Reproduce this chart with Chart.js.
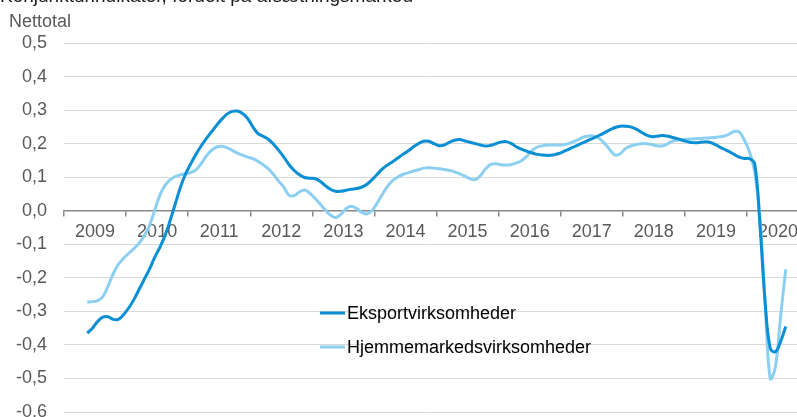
<!DOCTYPE html>
<html>
<head>
<meta charset="utf-8">
<script src="https://cdn.jsdelivr.net/npm/chart.js@4.4.0/dist/chart.umd.min.js"></script>
<style>
  html, body { margin: 0; padding: 0; background: #fff; }
  #chart { display: block; }
</style>
</head>
<body>
<canvas id="chart" width="797" height="417"></canvas>
<script>
const titleText = "Konjunkturindikator, fordelt på afsætningsmarked";
const unitLabel = "Nettotal";

// monthly series, first value = May 2009, last = Aug 2020
const startYear = 2009;
const startMonth = 5;

const eksport = [
  -0.365, -0.35, -0.33, -0.317, -0.316, -0.324, -0.324, -0.31,
  -0.29, -0.265, -0.235, -0.205, -0.175, -0.14, -0.11, -0.075, -0.03, 0.02, 0.07, 0.11,
  0.14, 0.168, 0.193, 0.215, 0.235, 0.255, 0.273, 0.288, 0.296, 0.297, 0.29, 0.275,
  0.25, 0.23, 0.222, 0.213, 0.198, 0.18, 0.16, 0.137, 0.12, 0.107, 0.099, 0.097,
  0.096, 0.088, 0.075, 0.064, 0.058, 0.058, 0.061, 0.064, 0.066, 0.07, 0.078, 0.092,
  0.108, 0.124, 0.136, 0.146, 0.157, 0.168, 0.178, 0.19, 0.2, 0.207, 0.207, 0.2,
  0.194, 0.196, 0.204, 0.21, 0.212, 0.208, 0.204, 0.2, 0.196, 0.193, 0.195, 0.2,
  0.205, 0.206, 0.2, 0.19, 0.183, 0.177, 0.172, 0.168, 0.166, 0.165, 0.166, 0.17,
  0.176, 0.183, 0.19, 0.197, 0.204, 0.211, 0.218, 0.225, 0.233, 0.241, 0.248, 0.252,
  0.252, 0.25, 0.244, 0.235, 0.226, 0.221, 0.222, 0.224, 0.223, 0.219, 0.215, 0.21,
  0.206, 0.203, 0.203, 0.205, 0.205, 0.2, 0.192, 0.184, 0.177, 0.168, 0.16, 0.156,
  0.155, 0.14, -0.04, -0.27, -0.41, -0.42, -0.39, -0.345
];

const hjemme = [
  -0.272, -0.271, -0.268, -0.256, -0.225, -0.188, -0.16, -0.142,
  -0.127, -0.113, -0.097, -0.075, -0.045, 0.0, 0.045, 0.075, 0.092, 0.102, 0.107, 0.11,
  0.114, 0.122, 0.14, 0.163, 0.18, 0.19, 0.192, 0.188, 0.18, 0.172, 0.166, 0.16,
  0.155, 0.147, 0.137, 0.125, 0.108, 0.088, 0.07, 0.046, 0.045, 0.056, 0.062, 0.052,
  0.037, 0.02, 0.002, -0.013, -0.02, -0.011, 0.006, 0.013, 0.007, -0.004, -0.01, 0.0,
  0.022, 0.048, 0.072, 0.09, 0.1, 0.108, 0.113, 0.118, 0.122, 0.127, 0.128, 0.127,
  0.125, 0.123, 0.12, 0.116, 0.11, 0.103, 0.095, 0.093, 0.105, 0.125, 0.138, 0.14,
  0.137, 0.136, 0.138, 0.143, 0.15, 0.163, 0.18, 0.19, 0.194, 0.196, 0.196, 0.196,
  0.197, 0.2, 0.206, 0.213, 0.22, 0.223, 0.222, 0.215, 0.2, 0.182, 0.166, 0.17,
  0.185, 0.193, 0.197, 0.2, 0.2, 0.198, 0.194, 0.193, 0.198, 0.207, 0.21, 0.212,
  0.213, 0.214, 0.215, 0.216, 0.217, 0.218, 0.22, 0.222, 0.228, 0.236, 0.235, 0.21,
  0.175, 0.115, -0.015, -0.27, -0.5, -0.465, -0.315, -0.175
];

const yearLabels = ["2009", "2010", "2011", "2012", "2013", "2014", "2015", "2016", "2017", "2018", "2019", "2020"];
const yTicks = [0.5, 0.4, 0.3, 0.2, 0.1, 0, -0.1, -0.2, -0.3, -0.4, -0.5, -0.6];
const yTickLabels = ["0,5", "0,4", "0,3", "0,2", "0,1", "0,0", "-0,1", "-0,2", "-0,3", "-0,4", "-0,5", "-0,6"];

const seriesNames = ["Eksportvirksomheder", "Hjemmemarkedsvirksomheder"];
const darkBlue = "#0a8fd4";
const lightBlue = "#8dcff1";
const font = "'Liberation Sans', Arial, sans-serif";

// point i sits in the middle of its month
const monthX = (i) => startYear + (startMonth - 1 + i + 0.5) / 12;
const toPoints = (arr) => arr.map((v, i) => ({ x: monthX(i), y: v }));

const textPlugin = {
  id: "texts",
  afterDraw(chart) {
    const ctx = chart.ctx;
    ctx.save();
    ctx.font = "19px " + font;
    ctx.fillStyle = "#1a1a1a";
    ctx.textBaseline = "alphabetic";
    ctx.fillText(titleText, 0, 2);

    ctx.font = "18px " + font;
    ctx.fillStyle = "#595959";
    ctx.textBaseline = "middle";
    ctx.fillText(unitLabel, 9, 22);

    // legend inside plot
    chart.data.datasets.forEach((ds, i) => {
      const y = 313 + i * 34;
      ctx.strokeStyle = ds.borderColor;
      ctx.lineWidth = 3;
      ctx.beginPath();
      ctx.moveTo(320, y);
      ctx.lineTo(345, y);
      ctx.stroke();
      ctx.fillStyle = "#000";
      ctx.fillText(ds.label, 347, y + 1);
    });
    ctx.restore();
  }
};

Chart.defaults.font.family = font;

new Chart(document.getElementById("chart"), {
  type: "line",
  data: {
    datasets: [
      {
        label: seriesNames[0],
        data: toPoints(eksport),
        borderColor: darkBlue,
        borderWidth: 3,
        pointRadius: 0,
        tension: 0.4,
        fill: false
      },
      {
        label: seriesNames[1],
        data: toPoints(hjemme),
        borderColor: lightBlue,
        borderWidth: 3,
        pointRadius: 0,
        tension: 0.4,
        fill: false
      }
    ]
  },
  options: {
    responsive: false,
    animation: false,
    layout: { padding: { top: 43, bottom: 5, left: 0, right: 0 } },
    plugins: {
      legend: { display: false },
      tooltip: { enabled: false }
    },
    scales: {
      x: {
        type: "linear",
        position: { y: 0 },
        min: 2009,
        max: 2020.806,
        afterBuildTicks: (s) => {
          s.ticks = yearLabels.map((y) => ({ value: Number(y) + 0.5 }));
        },
        afterFit: (s) => {
          s.paddingLeft = 0;
          s.paddingRight = 0;
        },
        ticks: {
          autoSkip: false,
          maxRotation: 0,
          padding: 6,
          color: "#595959",
          font: { size: 18 },
          callback: (v, i) => yearLabels[i]
        },
        grid: {
          offset: true,
          drawOnChartArea: false,
          drawTicks: true,
          tickLength: 5,
          color: "#888888",
          lineWidth: 1.5
        },
        border: { color: "#888888", width: 1.5 }
      },
      y: {
        min: -0.6,
        max: 0.5,
        afterBuildTicks: (s) => {
          s.ticks = yTicks.map((v) => ({ value: v }));
        },
        afterFit: (s) => {
          s.width = 64;
          s.paddingTop = 0;
          s.paddingBottom = 0;
        },
        ticks: {
          padding: 17,
          color: "#595959",
          font: { size: 18 },
          callback: (v, i) => yTickLabels[i]
        },
        grid: {
          drawTicks: false,
          color: (c) => (c.tick && c.tick.value === 0 ? "rgba(0,0,0,0)" : "#d9d9d9"),
          lineWidth: 1
        },
        border: { display: false }
      }
    }
  },
  plugins: [textPlugin]
});
</script>
</body>
</html>
